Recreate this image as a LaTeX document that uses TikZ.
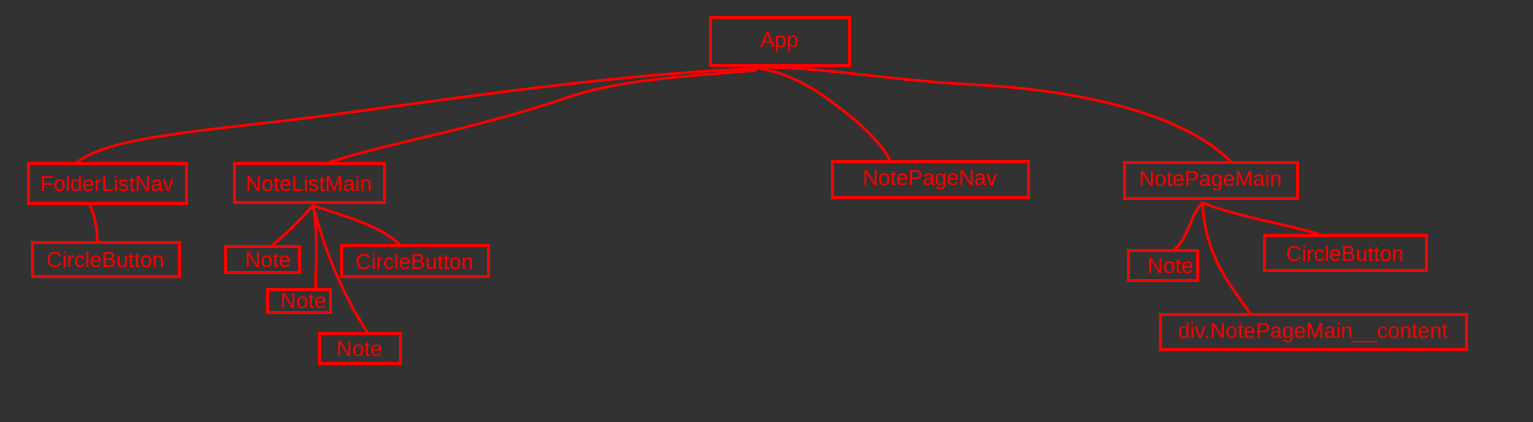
\documentclass[tikz,border=0pt]{standalone}
\usepackage{fontspec}
\usepackage{tikz}
\usetikzlibrary{calc}
\newfontfamily\boxfont{Liberation Sans}
\definecolor{cred}{HTML}{FF0000}
\definecolor{cback}{HTML}{323232}
\tikzset{
  cbox/.style={draw=cred, line width=1.5pt, inner sep=0pt, text=cred,
               font=\boxfont\fontsize{10.8}{13}\selectfont},
  clink/.style={cred, line width=1.3pt, line cap=round},
}

\begin{document}
\begin{tikzpicture}[x=0.5pt,y=-0.5pt]

  % background, fixes the page size
  \fill[cback] (0,0) rectangle (1533,422);
  \useasboundingbox (0,0) rectangle (1533,422);

  % top level
  \node[cbox, minimum width=69.5pt, minimum height=24pt] (app) at (779.5,42) {App};

  % second level
  \node[cbox, minimum width=79pt, minimum height=20pt] (fln) at (107,184) {FolderListNav};
  \node[cbox, minimum width=75pt, minimum height=19.5pt] (nlm) at (309,183.5) {NoteListMain};
  \node[cbox, minimum width=98pt, minimum height=18pt] (npn) at (930,180) {NotePageNav};
  \node[cbox, minimum width=86.5pt, minimum height=18pt] (npm) at (1210.5,181) {NotePageMain};

  % third level
  \node[cbox, minimum width=73.5pt, minimum height=17pt] (cb1) at (105.5,260) {CircleButton};
  \node[cbox, minimum width=37pt, minimum height=13pt] (note1) at (262,260) {\hspace{6pt}Note};
  \node[cbox, minimum width=73.5pt, minimum height=15.5pt] (cb2) at (414.5,261.5) {CircleButton};
  \node[cbox, minimum width=31.5pt, minimum height=11.5pt] (note2) at (298.5,301.5) {\hspace{5pt}Note};
  \node[cbox, minimum width=40.5pt, minimum height=15pt] (note3) at (359.5,349) {Note};
  \node[cbox, minimum width=34.5pt, minimum height=15pt] (note4) at (1162.5,266) {\hspace{8pt}Note};
  \node[cbox, minimum width=81pt, minimum height=17.5pt] (cb3) at (1345,253.5) {CircleButton\hspace{7pt}};
  \node[cbox, minimum width=153pt, minimum height=17.5pt] (div) at (1313,332.5) {div.NotePageMain\_\_content\hspace{7pt}};

  % App -> children
  \draw[clink] ($(app.south)+(-22,1)$) .. controls (620,74) and (480,95) .. (330,115)
               .. controls (220,130) and (110,135) .. ($(fln.north)+(-30,0)$);
  \draw[clink] ($(app.south)+(-24,3)$) .. controls (660,78) and (610,82) .. (560,100)
               .. controls (470,130) and (380,145) .. ($(nlm.north)+(20,0)$);
  \draw[clink] ($(app.south)+(-20,1)$) .. controls (800,75) and (830,100) .. (855,120)
               .. controls (875,138) and (885,150) .. ($(npn.north)+(-40,0)$);
  \draw[clink] ($(app.south)+(-25,0)$) .. controls (820,66) and (880,80) .. (980,85)
               .. controls (1100,92) and (1190,120) .. ($(npm.north)+(20,0)$);

  % FolderListNav
  \draw[clink] ($(fln.south)+(-17,0)$) .. controls (95,215) and (97,230) .. ($(cb1.north)+(-8,0)$);

  % NoteListMain
  \draw[clink] ($(nlm.south)+(4,1)$) .. controls (300,220) and (285,235) .. ($(note1.north)+(10,0)$);
  \draw[clink] ($(nlm.south)+(4,1)$) .. controls (318,230) and (316,260) .. ($(note2.north)+(17,0)$);
  \draw[clink] ($(nlm.south)+(4,1)$) .. controls (325,250) and (340,290) .. ($(note3.north)+(8,0)$);
  \draw[clink] ($(nlm.south)+(4,1)$) .. controls (340,215) and (380,225) .. ($(cb2.north)+(-15,0)$);

  % NotePageMain
  \draw[clink] ($(npm.south)+(-8,2)$) .. controls (1190,215) and (1190,235) .. ($(note4.north)+(12,0)$);
  \draw[clink] ($(npm.south)+(-8,2)$) .. controls (1205,260) and (1235,290) .. ($(div.north)+(-63,0)$);
  \draw[clink] ($(npm.south)+(-8,2)$) .. controls (1230,215) and (1290,225) .. ($(cb3.north)+(-25,0)$);

\end{tikzpicture}
\end{document}
